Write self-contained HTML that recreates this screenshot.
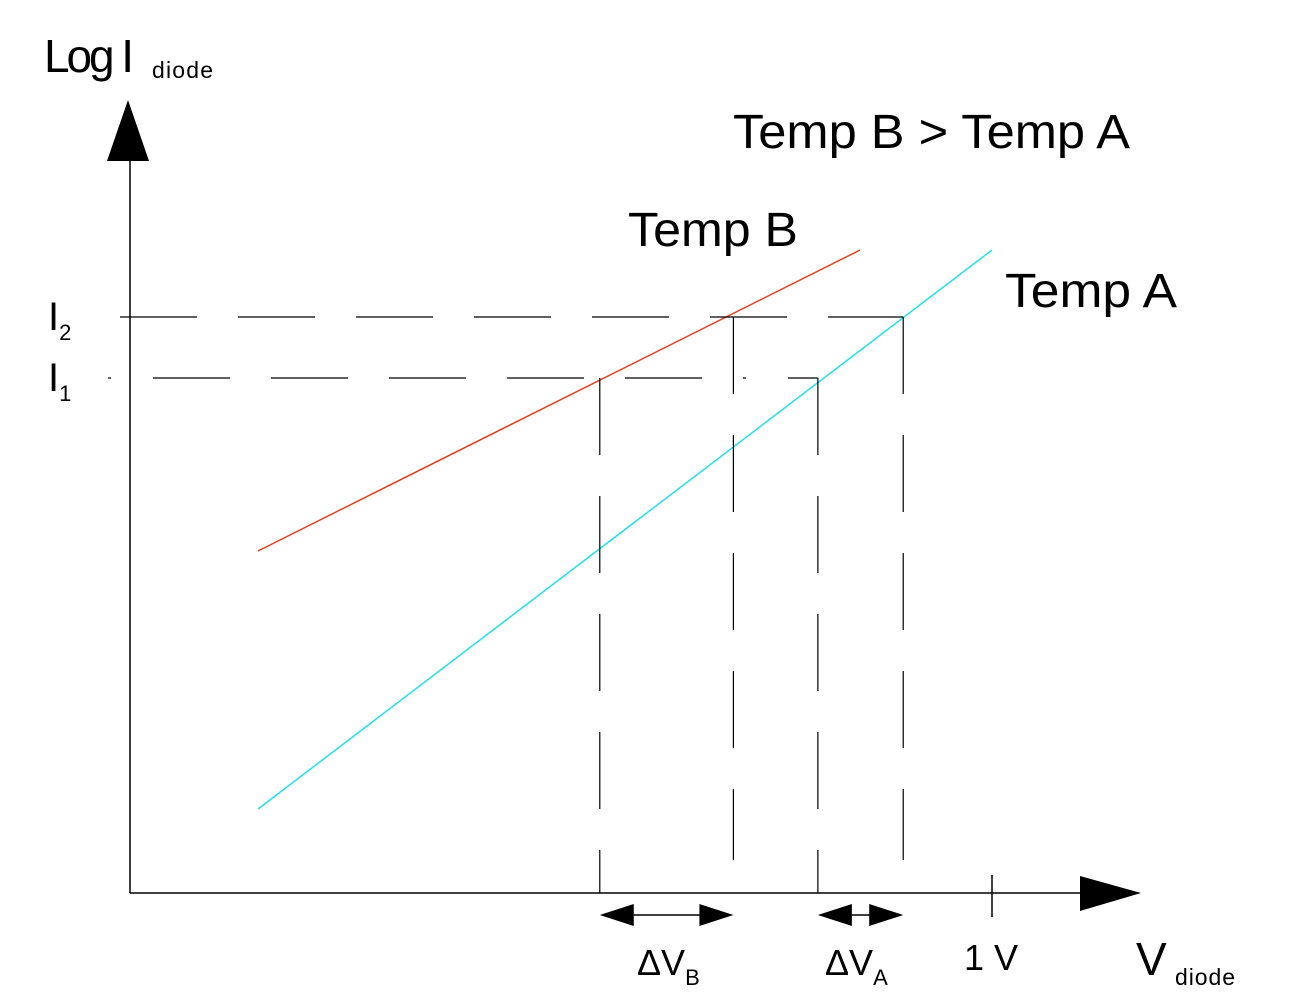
<!DOCTYPE html>
<html><head><meta charset="utf-8"><style>
html,body{margin:0;padding:0;background:#fff;}
svg{display:block;font-family:"Liberation Sans",Arial,sans-serif;}
</style></head><body>
<svg id="chart" width="1298" height="1004" viewBox="0 0 1298 1004">
<g id="axes">
<line x1="130" y1="155" x2="130" y2="893" stroke="#000" stroke-width="1.5"/>
<polygon points="128,100 107,161 149,161" fill="#000"/>
<line x1="130" y1="893" x2="1085" y2="893" stroke="#000" stroke-width="1.5"/>
<polygon points="1141,893 1080,876 1080,911" fill="#000"/>
<line x1="992" y1="875" x2="992" y2="917" stroke="#000" stroke-width="1.5"/>
</g>
<g id="marks"></g>
<text x="44" y="72" font-size="46"><tspan textLength="90">Log I</tspan><tspan font-size="23" dy="6" x="152" textLength="61">diode</tspan></text>
<text x="733" y="148" font-size="48" textLength="397" lengthAdjust="spacingAndGlyphs">Temp B &gt; Temp A</text>
<text x="628" y="246" font-size="48" textLength="170" lengthAdjust="spacingAndGlyphs">Temp B</text>
<text x="1005" y="307" font-size="48" textLength="172" lengthAdjust="spacingAndGlyphs">Temp A</text>
<text x="48" y="330" font-size="40">I<tspan font-size="22" dy="10">2</tspan></text>
<text x="48" y="391" font-size="40">I<tspan font-size="22" dy="10">1</tspan></text>
<text x="637" y="975" font-size="36">ΔV<tspan font-size="22" dy="10">B</tspan></text>
<text x="825" y="975" font-size="36">ΔV<tspan font-size="22" dy="10">A</tspan></text>
<text x="964" y="970" font-size="36">1 V</text>
<text x="1136" y="975" font-size="46">V<tspan font-size="23" dy="10" x="1175" textLength="60">diode</tspan></text>
</svg>
<script>
const seriesBVolts = [0.1485, 0.847];
const seriesBLog = [3.42, 6.43];
const seriesAVolts = [0.1485, 1.0];
const seriesALog = [0.84, 6.43];
const currentLevels = [5.76, 5.15]; // I2, I1
const crossVoltsB = [0.545, 0.700];
const crossVoltsA = [0.798, 0.897];

const ns = "http://www.w3.org/2000/svg";
function xs(v){return 130 + v*862;}
function ys(l){return 893 - l*100;}
const g = document.getElementById('marks');
function mk(tag, attrs){const e=document.createElementNS(ns,tag);for(const k in attrs)e.setAttribute(k,attrs[k]);g.appendChild(e);return e;}

let e;
e = mk('line',{x1:xs(seriesBVolts[0]),y1:ys(seriesBLog[0]),x2:xs(seriesBVolts[1]),y2:ys(seriesBLog[1]),stroke:'#e8401c','stroke-width':1.5});


e = mk('line',{x1:xs(seriesAVolts[0]),y1:ys(seriesALog[0]),x2:xs(seriesAVolts[1]),y2:ys(seriesALog[1]),stroke:'#22e0e8','stroke-width':1.5});



e = mk('line',{x1:120,y1:ys(currentLevels[0]),x2:xs(crossVoltsA[1]),y2:ys(currentLevels[0]),stroke:'#000','stroke-width':1.2,'stroke-dasharray':'77 41'});


e = mk('line',{x1:108,y1:ys(currentLevels[1]),x2:xs(crossVoltsA[0]),y2:ys(currentLevels[1]),stroke:'#000','stroke-width':1.2,'stroke-dasharray':'3 42 77 41 77 41 77 41 77 41 77 41'});



const verts = [[crossVoltsB[0],currentLevels[1],893],[crossVoltsB[1],currentLevels[0],860],[crossVoltsA[0],currentLevels[1],893],[crossVoltsA[1],currentLevels[0],860]];
const vnames = ['vb1-dashed','vb2-dashed','va1-dashed','va2-dashed'];
verts.forEach((d,i)=>{
  const el = mk('line',{x1:xs(d[0]),y1:ys(d[1]),x2:xs(d[0]),y2:d[2],stroke:'#000','stroke-width':1.2,'stroke-dasharray':'77 41'});
  
  
});

function dbl(a,b,name){
  const x1=xs(a),x2=xs(b),y=915;
  const grp=document.createElementNS(ns,'g');g.appendChild(grp);
  
  
  const l=document.createElementNS(ns,'line');
  l.setAttribute('x1',x1+20);l.setAttribute('x2',x2-20);l.setAttribute('y1',y);l.setAttribute('y2',y);l.setAttribute('stroke','#000');l.setAttribute('stroke-width',1.5);grp.appendChild(l);
  const p1=document.createElementNS(ns,'polygon');p1.setAttribute('points',`${x1},${y} ${x1+34},${y-11} ${x1+34},${y+11}`);grp.appendChild(p1);
  const p2=document.createElementNS(ns,'polygon');p2.setAttribute('points',`${x2},${y} ${x2-34},${y-11} ${x2-34},${y+11}`);grp.appendChild(p2);
}
dbl(crossVoltsB[0],crossVoltsB[1],'delta-vb-arrow');
dbl(crossVoltsA[0],crossVoltsA[1],'delta-va-arrow');
</script>
</body></html>
